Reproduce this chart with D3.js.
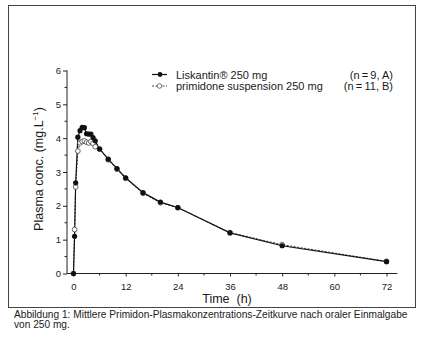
<!DOCTYPE html>
<html><head><meta charset="utf-8">
<script src="https://cdn.jsdelivr.net/npm/d3@7/dist/d3.min.js"></script>
<style>
html,body{margin:0;padding:0;background:#fff;}
text{font-family:"Liberation Sans",Arial,Helvetica,sans-serif;fill:#1a1a1a;}
</style></head>
<body>
<script>
const times = [0, 0.25, 0.5, 1, 1.5, 2, 2.5, 3, 3.5, 4, 4.5, 5, 6, 8, 10, 12, 16, 20, 24, 36, 48, 72];
const liskantin = [0, 1.1, 2.68, 4.03, 4.22, 4.32, 4.31, 4.13, 4.12, 4.12, 4.02, 3.92, 3.68, 3.38, 3.1, 2.83, 2.39, 2.11, 1.95, 1.2, 0.82, 0.35];
const suspension = [0, 1.3, 2.56, 3.62, 3.86, 3.9, 3.92, 3.88, 3.86, 3.9, 3.84, 3.75, 3.68, 3.36, 3.08, 2.81, 2.37, 2.09, 1.94, 1.21, 0.85, 0.36];
const xTicks = [0, 12, 24, 36, 48, 60, 72];
const yTicks = [0, 1, 2, 3, 4, 5, 6];
const legendLabels = ["Liskantin\u00AE 250 mg", "primidone suspension 250 mg"];
const legendN = ["(n\u2009=\u20099, A)", "(n\u2009=\u200911, B)"];
const xTitle = "Time\u00A0 (h)";
const yTitle = "Plasma conc.  (mg.L";
const captionLines = ["Abbildung 1: Mittlere Primidon-Plasmakonzentrations-Zeitkurve nach oraler Einmalgabe", "von 250 mg."];

const W = 435, H = 364;
const svg = d3.select("body").append("svg").attr("width", W).attr("height", H);
svg.append("rect").attr("width", W).attr("height", H).attr("fill", "#fff");
svg.append("rect").attr("x", 8.5).attr("y", 5.5).attr("width", 407).attr("height", 302)
  .attr("fill", "none").attr("stroke", "#444").attr("stroke-width", 1);

const x = d3.scaleLinear().domain([0, 72]).range([73.5, 386.5]);
const y = d3.scaleLinear().domain([0, 6]).range([273.5, 70.5]);

// y axis
const yAxis = d3.axisLeft(y).tickValues(yTicks).tickFormat(d3.format("d")).tickSize(4).tickPadding(2);
const gy = svg.append("g").attr("transform", "translate(67,0)").call(yAxis);
gy.select(".domain").attr("stroke", "#222").attr("d", `M0,${y(6)}V${y(0)}`);
gy.selectAll(".tick line").attr("stroke", "#222");
gy.selectAll("text").attr("font-size", 9.5).style("fill", "#1a1a1a");
gy.selectAll(".minor").data(d3.range(0.5, 6, 1)).enter().append("line")
  .attr("x1", -2.5).attr("x2", 0).attr("y1", d => y(d)).attr("y2", d => y(d)).attr("stroke", "#222");

// x axis
const xAxis = d3.axisBottom(x).tickValues(xTicks).tickFormat(d3.format("d")).tickSize(3).tickPadding(7);
const gx = svg.append("g").attr("transform", `translate(0,${y(0)})`).call(xAxis);
gx.select(".domain").attr("stroke", "#222").attr("d", `M67,0H${x(74.5)}`);
gx.selectAll(".tick line").attr("stroke", "#222");
gx.selectAll("text").attr("font-size", 9.5).style("fill", "#1a1a1a");
gx.selectAll(".minor").data(d3.range(6, 72, 12)).enter().append("line")
  .attr("x1", d => x(d)).attr("x2", d => x(d)).attr("y1", 0).attr("y2", 2).attr("stroke", "#222");

// titles
svg.append("text").attr("x", (x(0) + x(72)) / 2 - 3).attr("y", 303).attr("text-anchor", "middle")
  .attr("font-size", 12.5).text(xTitle);
const yt = svg.append("text").attr("transform", `translate(43,${169}) rotate(-90)`)
  .attr("text-anchor", "middle").attr("font-size", 12.5);
yt.append("tspan").text(yTitle);
yt.append("tspan").attr("font-size", 8).attr("dy", -5).text("\u22121");
yt.append("tspan").attr("dy", 5).text(")");

// series
const dataA = times.map((t, i) => [t, liskantin[i]]);
const dataB = times.map((t, i) => [t, suspension[i]]);
const line = d3.line().x(d => x(d[0])).y(d => y(d[1]));

svg.append("path").datum(dataB).attr("d", line).attr("fill", "none")
  .attr("stroke", "#333").attr("stroke-width", 1).attr("stroke-dasharray", "2,1.5");
svg.append("path").datum(dataA).attr("d", line).attr("fill", "none")
  .attr("stroke", "#111").attr("stroke-width", 1.2);
svg.selectAll(".ob").data(dataB).enter().append("circle")
  .attr("cx", d => x(d[0])).attr("cy", d => y(d[1])).attr("r", 2.4)
  .attr("fill", "#fff").attr("stroke", "#444").attr("stroke-width", 0.8);
svg.selectAll(".fa").data(dataA).enter().append("circle")
  .attr("cx", d => x(d[0])).attr("cy", d => y(d[1])).attr("r", 2.6)
  .attr("fill", "#111");

// legend
const lg = svg.append("g");
const rows = [78.5, 90];
rows.forEach((ry, i) => {
  const ly = ry - 4;
  lg.append("line").attr("x1", 152).attr("x2", 167).attr("y1", ly).attr("y2", ly)
    .attr("stroke", i === 0 ? "#111" : "#444").attr("stroke-width", i === 0 ? 1.2 : 1)
    .attr("stroke-dasharray", i === 0 ? null : "2,1.5");
  if (i === 0) lg.append("circle").attr("cx", 160).attr("cy", ly).attr("r", 2.4).attr("fill", "#111");
  else lg.append("circle").attr("cx", 159.5).attr("cy", ly).attr("r", 2.3).attr("fill", "#fff").attr("stroke", "#555").attr("stroke-width", 0.8);
  lg.append("text").attr("x", 176).attr("y", ry).attr("font-size", 11).text(legendLabels[i]);
  lg.append("text").attr("x", 393).attr("y", ry).attr("font-size", 11).attr("text-anchor", "end").text(legendN[i]);
});

// caption
const c1 = svg.append("text").attr("x", 14).attr("y", 317.5).attr("font-size", 10).text(captionLines[0]);
const len = c1.node().getComputedTextLength();
const fs = 10 * 394 / len;
c1.attr("font-size", fs);
svg.append("text").attr("x", 14).attr("y", 328).attr("font-size", fs).text(captionLines[1]);
</script>
</body></html>
